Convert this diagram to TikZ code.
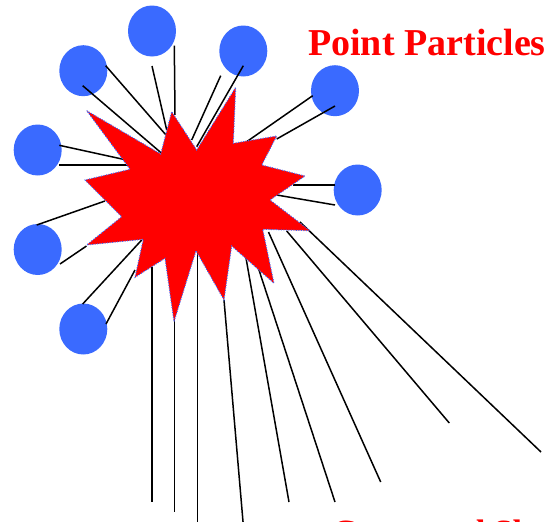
\documentclass[tikz,border=0pt]{standalone}
\usepackage{fontspec}
\setmainfont{Liberation Serif}
\usetikzlibrary{shapes.geometric, calc}
\definecolor{partblue}{RGB}{58,106,255}
\tikzset{
	particle/.style={ellipse, fill=partblue, minimum width=48pt, minimum height=51pt, inner sep=0pt}
}
\tikzset{
	bond/.style={line width=1.5pt, black}
}
\tikzset{
	redtitle/.style={font=\fontsize{38}{40}\selectfont\bfseries, text=red, inner sep=0pt, anchor=base west}
}

\begin{document}
\begin{tikzpicture}[x=1pt, y=-1pt]
      \useasboundingbox (0,0) rectangle (547,522);
      \clip (0,0) rectangle (547,522);
      % particles round the blast
      \node[particle] (p1) at (152,31) {};
      \node[particle] (p2) at (83.3,70.7) {};
      \node[particle] (p3) at (243.3,51) {};
      \node[particle] (p4) at (37.7,150) {};
      \node[particle] (p5) at (37.7,249.5) {};
      \node[particle] (p6) at (83.3,329) {};
      \node[particle] (p7) at (335,90.7) {};
      \node[particle] (p8) at (357.7,190) {};
      % two bonds per particle
      \foreach \p/\sx/\sy/\ex/\ey in {p1/0/35/166.7/130, p1/22.3/14.7/175/115,
          p2/22.4/-5/166/135, p2/-0.6/15/161.7/153.3,
          p3/-22.6/24.7/191.7/140, p3/0/14.7/196.7/146.7,
          p4/21.6/-4.7/123.3/159.3, p4/21.6/15/128.3/165,
          p5/-1/-24.5/105/201, p5/22.3/14.5/86.5/246,
          p6/-0.6/-25/141.7/240, p6/22.7/-5/135/270,
          p7/-22.3/5/246.7/141.7, p7/0/15.3/276.7/139,
          p8/-22.7/-5/293/185, p8/-22.7/15/276.7/195}
        \draw[bond] ($(\p)+(\sx,\sy)$) -- (\ex,\ey);
      % outgoing jets
      \foreach \sx/\sy/\ex/\ey in {152/267/152/502, 174.3/300/174.3/512,
          197.7/251/197.7/525, 224/300/243.3/525, 246/258/289/502,
          258/267/335/502, 268.5/232/380.7/482, 286.7/231/449.3/423,
          300/222/541/452}
        \draw[bond] (\sx,\sy) -- (\ex,\ey);
      % blast
      \filldraw[fill=red, draw=partblue, line width=1pt, dash pattern=on 1pt off 1.5pt]
        (86.7,110.7) -- (160.7,154) -- (171.7,111.7) -- (196.7,150)
        -- (235.7,87.3) -- (233.3,143.3) -- (276.7,136) -- (261.7,165)
        -- (305,176) -- (270,200) -- (310,230.7) -- (262.7,229.3)
        -- (274,283.3) -- (231.7,246) -- (224,300) -- (196,250.7)
        -- (174,321.7) -- (165,258.3) -- (135,277.3) -- (143.3,239.3)
        -- (86.7,245) -- (121.7,216.7) -- (85,180) -- (130,169.3) -- cycle;
      \node[redtitle] (title) at (308,55) {Point Particles};
      \node[redtitle, font=\fontsize{34}{36}\selectfont\bfseries] (subtitle) at (332,543.5) {Composed Sl};
\end{tikzpicture}
\end{document}
